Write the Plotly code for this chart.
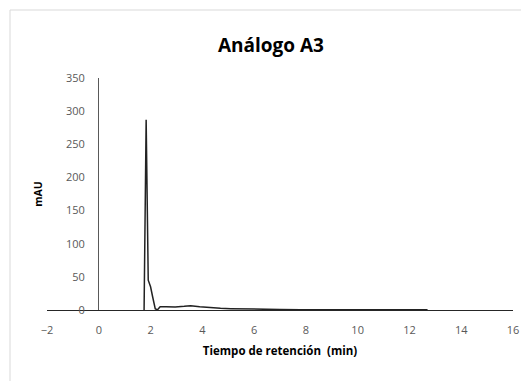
import plotly.graph_objects as go

# Cromatograma: tiempo de retención (min) vs absorbancia (mAU)
tiempo = [1.75, 1.83, 1.91, 2.00, 2.08, 2.18, 2.26, 2.37, 2.60, 2.95, 3.30, 3.55, 3.90,
          4.30, 4.70, 5.10, 5.60, 6.20, 7.00, 7.80, 8.80, 9.70, 11.0, 12.5, 12.6, 12.7]
senal = [0, 287, 45, 35, 20, 2, 0, 5, 5, 4.5, 5.5, 6.5, 5,
         3.5, 2.5, 2, 1.5, 1, 0.7, 0.5, 0.4, 0.3, 0.2, 0.2, 0.8, 0.2]

x_ticks = [-2, 0, 2, 4, 6, 8, 10, 12, 14, 16]
y_ticks = [0, 50, 100, 150, 200, 250, 300, 350]

fuente = "Open Sans, Liberation Sans, sans-serif"
gris = "#595959"

fig = go.Figure()
fig.add_trace(go.Scatter(
    x=tiempo, y=senal, mode="lines",
    line=dict(color="#222222", width=1.5),
    showlegend=False, hoverinfo="x+y",
))

L, R, T, B = 47, 8, 78, 71
W, H = 521, 381
pw, ph = W - L - R, H - T - B

fig.update_layout(
    width=W, height=H,
    margin=dict(l=L, r=R, t=T, b=B, autoexpand=False),
    paper_bgcolor="white", plot_bgcolor="white",
    title=dict(
        text="<b>Análogo A3</b>",
        font=dict(family=fuente, size=19, color="#000000"),
        x=0.52, xanchor="center", y=1 - 45 / H, yanchor="middle",
    ),
    xaxis=dict(
        range=[-2, 16], tickmode="array", tickvals=x_ticks,
        automargin=False,
        showgrid=False, showline=True, linecolor="#262626", linewidth=1.3,
        zeroline=True, zerolinecolor="#595959", zerolinewidth=1.3,
        ticks="", ticklabelstandoff=10,
        tickfont=dict(family=fuente, size=11, color=gris),
        title=dict(text="<b>Tiempo de retención  (min)</b>",
                   font=dict(family=fuente, size=11.5, color="#000000"),
                   standoff=10),
    ),
    yaxis=dict(
        range=[0, 350], tickmode="array", tickvals=y_ticks,
        automargin=False,
        showgrid=False, showline=False, zeroline=False,
        anchor="free", position=2 / 18,
        ticks="", ticklabelstandoff=14,
        tickfont=dict(family=fuente, size=11, color=gris),
        title=dict(text="<b>mAU</b>",
                   font=dict(family=fuente, size=10.5, color="#000000"),
                   standoff=20),
    ),
    shapes=[dict(
        type="rect", xref="paper", yref="paper",
        x0=(10 - L) / pw, x1=(W + 10 - L) / pw,
        y0=(H - B - (H + 10)) / ph, y1=(H - B - 10) / ph,
        line=dict(color="#d9d9d9", width=1), fillcolor="rgba(0,0,0,0)",
        layer="below",
    )],
)

fig.write_html("out.html")
